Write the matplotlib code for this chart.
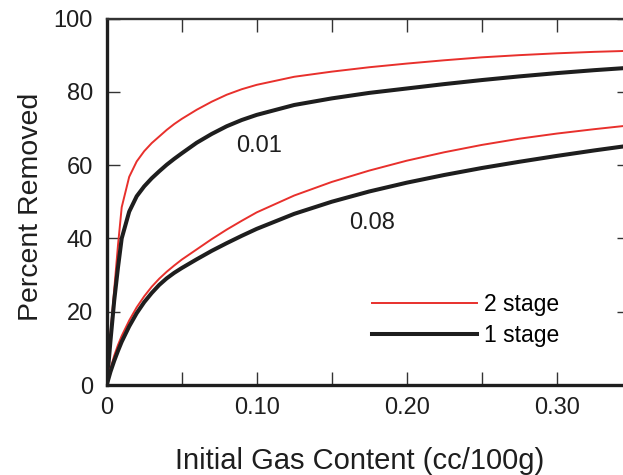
import matplotlib
matplotlib.use("Agg")
import matplotlib.pyplot as plt
from matplotlib.ticker import MultipleLocator

plt.rcParams['font.family'] = ['Liberation Sans', 'DejaVu Sans']

# gas content (cc/100g)
gas_content = [0, 0.0025, 0.005, 0.0075, 0.01, 0.015, 0.02, 0.025, 0.03, 0.035,
               0.04, 0.045, 0.05, 0.06, 0.07, 0.08, 0.09, 0.10, 0.125, 0.15,
               0.175, 0.20, 0.225, 0.25, 0.275, 0.30, 0.325, 0.35]

# percent removed, 0.01 curves
one_stage_001 = [0, 12, 23, 32, 40, 47.3, 51.5, 54.2, 56.4, 58.3,
                 60.1, 61.7, 63.2, 66.1, 68.5, 70.6, 72.3, 73.7, 76.4, 78.2,
                 79.7, 80.9, 82.1, 83.2, 84.2, 85.1, 85.9, 86.6]
two_stage_001 = [0, 14, 26, 38, 48.5, 56.8, 61, 63.8, 66.0, 67.8,
                 69.6, 71.2, 72.6, 75.1, 77.3, 79.2, 80.7, 81.9, 84.1, 85.5,
                 86.7, 87.7, 88.6, 89.4, 90.0, 90.5, 90.9, 91.2]

# percent removed, 0.08 curves
one_stage_008 = [0, 3.6, 6.6, 9.3, 11.8, 16.0, 19.6, 22.6, 25.1, 27.3,
                 29.1, 30.6, 31.9, 34.3, 36.6, 38.7, 40.7, 42.6, 46.7, 50.0,
                 52.8, 55.2, 57.3, 59.2, 60.9, 62.5, 64.0, 65.4]
two_stage_008 = [0, 4.4, 8.0, 10.9, 13.4, 17.6, 21.2, 24.2, 26.8, 29.0,
                 30.9, 32.6, 34.2, 37.0, 39.8, 42.4, 44.8, 47.1, 51.7, 55.4,
                 58.5, 61.2, 63.5, 65.5, 67.2, 68.6, 69.8, 70.9]

red = '#e8302c'
dark = '#1e1e1e'

fig = plt.figure(figsize=(6.23, 4.75), dpi=100)
ax = fig.add_axes([106.7 / 623, 1 - 385 / 475, (630 - 106.7) / 623, 366.5 / 475])

ax.plot(gas_content, two_stage_001, color=red, linewidth=1.4, label='2 stage')
ax.plot(gas_content, one_stage_001, color=dark, linewidth=2.9, label='1 stage')
ax.plot(gas_content, two_stage_008, color=red, linewidth=1.4)
ax.plot(gas_content, one_stage_008, color=dark, linewidth=2.9)

ax.text(0.1015, 65.2, '0.01', fontsize=17, color=dark, ha='center', va='center')
ax.text(0.1767, 44.3, '0.08', fontsize=17, color=dark, ha='center', va='center')

ax.set_xlim(0, (630 - 106.7) / 1500)
ax.set_ylim(0, 100)

ax.xaxis.set_minor_locator(MultipleLocator(0.05))
ax.yaxis.set_major_locator(MultipleLocator(20))
ax.set_xticks([0, 0.10, 0.20, 0.30])
ax.set_xticklabels(['0', '0.10', '0.20', '0.30'])

ax.tick_params(which='both', direction='in', length=9.4, width=1.0, color='#333333',
               top=True, right=True, labelsize=17, labelcolor=dark)
ax.tick_params(axis='x', pad=9)
ax.tick_params(axis='y', pad=10)

for side in ['left', 'bottom']:
    ax.spines[side].set_linewidth(2.4)
    ax.spines[side].set_color(dark)
for side in ['top', 'right']:
    ax.spines[side].set_linewidth(1.7)
    ax.spines[side].set_color('#333333')

ax.set_xlabel('Initial Gas Content (cc/100g)', fontsize=21, color=dark)
ax.set_ylabel('Percent Removed', fontsize=20.5, color=dark)
ax.xaxis.set_label_coords(0.484, -0.168)
ax.yaxis.set_label_coords(-0.12, 0.487)

handles, labels = ax.get_legend_handles_labels()
ax.legend(handles, labels, loc='upper left', bbox_to_anchor=(371.7 / 623, 1 - 293 / 475),
          bbox_transform=fig.transFigure, frameon=False, fontsize=16.5, handlelength=4.58,
          handletextpad=0.3, labelspacing=0.35, borderpad=0, borderaxespad=0)

fig.savefig('out.png', dpi=100)
